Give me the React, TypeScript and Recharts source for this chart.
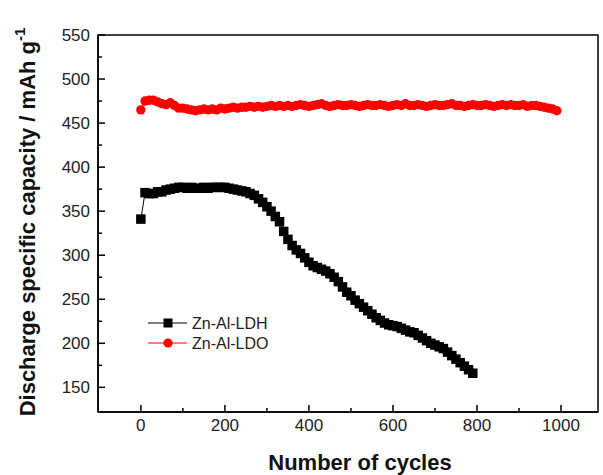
import React from 'react';
import { ComposedChart, Line, XAxis, YAxis, Legend, ReferenceArea } from 'recharts';

// Zn-Al-LDH (black squares)
const ldhCycles = [
  0, 10, 20, 30, 40, 50, 60, 70, 80, 90,
  100, 110, 120, 130, 140, 150, 160, 170, 180, 190,
  200, 210, 220, 230, 240, 250, 260, 270, 280, 290,
  300, 310, 320, 330, 340, 350, 360, 370, 380, 390,
  400, 410, 420, 430, 440, 450, 460, 470, 480, 490,
  500, 510, 520, 530, 540, 550, 560, 570, 580, 590,
  600, 610, 620, 630, 640, 650, 660, 670, 680, 690,
  700, 710, 720, 730, 740, 750, 760, 770, 780, 790,
];
const ldhCapacity = [
  341, 371, 370, 370, 372, 372, 374, 375, 376, 377,
  377, 376, 377, 376, 376, 377, 376, 377, 377, 377,
  377, 376, 375, 374, 373, 372, 370, 368, 364, 360,
  355, 350, 344, 338, 327, 318, 311, 306, 302, 297,
  292, 288, 286, 284, 282, 279, 275, 270, 264, 258,
  254, 249, 245, 241, 237, 233, 229, 226, 223, 221,
  220, 219, 217, 215, 213, 212, 209, 206, 203, 200,
  198, 196, 194, 190, 186, 182, 178, 174, 170, 166,
];

// Zn-Al-LDO (red circles)
const ldoCycles = [
  0, 10, 20, 30, 40, 50, 60, 70, 80, 90,
  100, 110, 120, 130, 140, 150, 160, 170, 180, 190,
  200, 210, 220, 230, 240, 250, 260, 270, 280, 290,
  300, 310, 320, 330, 340, 350, 360, 370, 380, 390,
  400, 410, 420, 430, 440, 450, 460, 470, 480, 490,
  500, 510, 520, 530, 540, 550, 560, 570, 580, 590,
  600, 610, 620, 630, 640, 650, 660, 670, 680, 690,
  700, 710, 720, 730, 740, 750, 760, 770, 780, 790,
  800, 810, 820, 830, 840, 850, 860, 870, 880, 890,
  900, 910, 920, 930, 940, 950, 960, 970, 980, 990,
];
const ldoCapacity = [
  465, 475, 476, 476, 474, 472, 471, 473, 470, 467,
  467, 466, 465, 464, 465, 466, 465, 466, 465, 467,
  466, 467, 468, 467, 468, 468, 469, 468, 469, 468,
  469, 470, 469, 470, 469, 470, 469, 470, 471, 470,
  469, 470, 471, 472, 470, 469, 470, 471, 470, 470,
  471, 470, 469, 470, 471, 470, 470, 471, 470, 469,
  470, 471, 470, 472, 470, 470, 471, 470, 469, 470,
  471, 470, 470, 471, 472, 470, 470, 469, 470, 471,
  470, 470, 471, 470, 469, 470, 471, 470, 471, 470,
  470, 471, 469, 470, 470, 469, 468, 467, 466, 464,
];

const xTicks = [0, 100, 200, 300, 400, 500, 600, 700, 800, 900, 1000];
const yTicks = [150, 175, 200, 225, 250, 275, 300, 325, 350, 375, 400, 425, 450, 475, 500, 525, 550];

const ldhData = ldhCycles.map((c, i) => ({ cycle: c, capacity: ldhCapacity[i] }));
const ldoData = ldoCycles.map((c, i) => ({ cycle: c, capacity: ldoCapacity[i] }));

const FONT = '"Liberation Sans", Arial, sans-serif';
const X_DOMAIN: [number, number] = [-102, 1088];
const Y_DOMAIN: [number, number] = [122, 550];

const XTick = (props: any) => {
  const { x, y, payload } = props;
  const major = payload.value % 200 === 0;
  return (
    <g>
      <line x1={x} x2={x} y1={y} y2={y - (major ? 7 : 4)} stroke="#000" strokeWidth={1.5} />
      {major && (
        <text x={x} y={y + 7} dy="0.71em" textAnchor="middle" fontSize={17} fontFamily={FONT} fill="#222">
          {payload.value}
        </text>
      )}
    </g>
  );
};

const YTick = (props: any) => {
  const { x, y, payload } = props;
  const major = payload.value % 50 === 0;
  return (
    <g>
      <line x1={x} x2={x + (major ? 7 : 4)} y1={y} y2={y} stroke="#000" strokeWidth={1.5} />
      {major && (
        <text x={x - 8} y={y} dy="0.355em" textAnchor="end" fontSize={17} fontFamily={FONT} fill="#222">
          {payload.value}
        </text>
      )}
    </g>
  );
};

const YLabel = () => (
  <text
    transform="translate(35, 222) rotate(-90)"
    textAnchor="middle"
    fontSize={22}
    fontWeight="bold"
    fontFamily={FONT}
    fill="#111"
  >
    Discharge specific capacity / mAh g
    <tspan fontSize={15} dy={-10}>-1</tspan>
  </text>
);

const XLabel = () => (
  <text x={360} y={470} textAnchor="middle" fontSize={22} fontWeight="bold" fontFamily={FONT} fill="#111">
    Number of cycles
  </text>
);

const SquareDot = (props: any) => {
  const { cx, cy, index } = props;
  if (cx == null || cy == null) return <g key={`s-${index}`} />;
  return <rect key={`s-${index}`} x={cx - 4.75} y={cy - 4.75} width={9.5} height={9.5} fill="#000" />;
};

const CircleDot = (props: any) => {
  const { cx, cy, index } = props;
  if (cx == null || cy == null) return <g key={`c-${index}`} />;
  return <circle key={`c-${index}`} cx={cx} cy={cy} r={4.7} fill="#ff0000" />;
};

const LegendBox = () => (
  <svg width={130} height={46}>
    <line x1={8} x2={47} y1={13} y2={13} stroke="#000" strokeWidth={1} />
    <rect x={23.5} y={8.5} width={9} height={9} fill="#000" />
    <text x={52} y={13} dy="0.355em" fontSize={16} fontFamily={FONT} fill="#222">Zn-Al-LDH</text>
    <line x1={8} x2={47} y1={33} y2={33} stroke="#ff0000" strokeWidth={1} />
    <circle cx={28} cy={33} r={4.6} fill="#ff0000" />
    <text x={52} y={33} dy="0.355em" fontSize={16} fontFamily={FONT} fill="#222">Zn-Al-LDO</text>
  </svg>
);

export default function App() {
  return (
    <div style={{ position: 'absolute', left: 0, top: 0, width: 603, height: 475, background: '#fff' }}>
      <ComposedChart width={603} height={475} margin={{ top: 35, right: 5, bottom: 0, left: 0 }}>
        <XAxis
          type="number"
          dataKey="cycle"
          domain={X_DOMAIN}
          ticks={xTicks}
          height={63}
          tickSize={0}
          tickMargin={0}
          tickLine={false}
          tick={<XTick />}
          axisLine={{ stroke: '#000', strokeWidth: 1.5 }}
          label={<XLabel />}
          interval={0}
        />
        <YAxis
          type="number"
          dataKey="capacity"
          domain={Y_DOMAIN}
          ticks={yTicks}
          width={98}
          tickSize={0}
          tickMargin={0}
          tickLine={false}
          tick={<YTick />}
          axisLine={{ stroke: '#000', strokeWidth: 1.5 }}
          label={<YLabel />}
          interval={0}
        />
        <ReferenceArea
          x1={X_DOMAIN[0]}
          x2={X_DOMAIN[1]}
          y1={Y_DOMAIN[0]}
          y2={Y_DOMAIN[1]}
          fill="none"
          stroke="#000"
          strokeWidth={1.5}
          fillOpacity={0}
        />
        <Line
          data={ldhData}
          dataKey="capacity"
          name="Zn-Al-LDH"
          stroke="#000"
          strokeWidth={1}
          dot={<SquareDot />}
          activeDot={false}
          isAnimationActive={false}
        />
        <Line
          data={ldoData}
          dataKey="capacity"
          name="Zn-Al-LDO"
          stroke="#ff0000"
          strokeWidth={1}
          dot={<CircleDot />}
          activeDot={false}
          isAnimationActive={false}
        />
        <Legend
          layout="vertical"
          align="center"
          verticalAlign="middle"
          content={<LegendBox />}
          wrapperStyle={{ position: 'absolute', left: 140, top: 310, width: 130, height: 46 }}
        />
      </ComposedChart>
    </div>
  );
}
